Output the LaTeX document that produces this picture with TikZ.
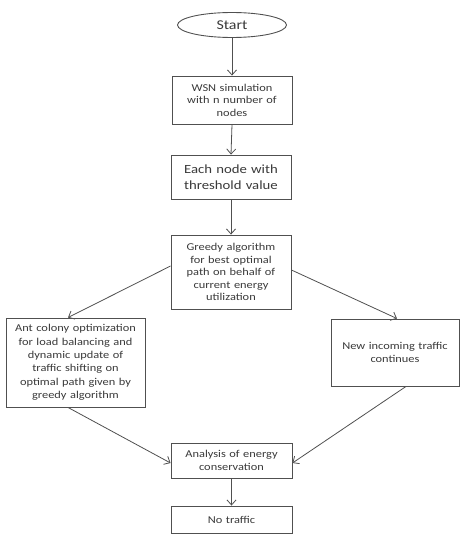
\documentclass[tikz,border=0pt]{standalone}
\usepackage{fontspec}
\setmainfont{Carlito}[FakeStretch=1.18]
\usetikzlibrary{shapes.geometric,arrows.meta,calc}
\definecolor{ln}{HTML}{505050}
\definecolor{tx}{HTML}{3A3A3A}
\begin{document}
\begin{tikzpicture}[x=1pt,y=-1pt,
  box/.style={draw=ln,line width=0.9pt,rectangle,align=center,inner sep=2pt,text=tx,font=\fontsize{10.5}{12.6}\selectfont},
  conn/.style={draw=ln,line width=0.8pt,-{Straight Barb[length=5pt,width=9pt]}}]
\useasboundingbox[fill=white] (0,0) rectangle (461,543);
\node[draw=ln,line width=0.9pt,ellipse,minimum width=109pt,minimum height=25pt,inner sep=0pt,text=tx,font=\fontsize{13.5}{15}\selectfont] (start) at (232,25) {Start};
\node[box,minimum width=120pt,minimum height=48pt,text width=114pt] (wsn) at (232,100) {WSN simulation\\with n number of\\nodes};
\node[box,minimum width=120pt,minimum height=44pt,text width=114pt,font=\fontsize{12.5}{16}\selectfont] (each) at (231,177) {Each node with\\threshold value};
\node[box,minimum width=120pt,minimum height=74pt,text width=114pt] (greedy) at (231,272) {Greedy algorithm\\for best optimal\\path on behalf of\\current energy\\utilization};
\node[box,minimum width=139pt,minimum height=89pt,text width=133pt,font=\fontsize{10.5}{13.3}\selectfont] (ant) at (75.5,362.5) {Ant colony optimization\\for load balancing and\\dynamic update of\\traffic shifting on\\optimal path given by\\greedy algorithm};
\node[box,minimum width=128pt,minimum height=67pt,text width=122pt,font=\fontsize{10.5}{13.3}\selectfont] (newt) at (395,352.5) {New incoming traffic\\continues};
\node[box,minimum width=121pt,minimum height=35pt,text width=115pt] (anal) at (231.5,460.5) {Analysis of energy\\conservation};
\node[box,minimum width=121pt,minimum height=27pt,text width=115pt] (notr) at (231.5,519.5) {No traffic};
\draw[conn] (start.south) -- (wsn.north);
\draw[conn] (wsn.south) -- (each.north);
\draw[conn] (each.south) -- (greedy.north);
\draw[conn] ($(greedy.west)+(0,-6)$) -- ($(ant.north)+(-7.5,0)$);
\draw[conn] ($(greedy.east)+(0,-2)$) -- ($(newt.north)+(2,0)$);
\draw[conn] ($(ant.south)+(-7.5,0)$) -- ($(anal.west)+(0,2.5)$);
\draw[conn] ($(newt.south)+(11,0)$) -- ($(anal.east)+(0,2.5)$);
\draw[conn] (anal.south) -- (notr.north);
\end{tikzpicture}
\end{document}
